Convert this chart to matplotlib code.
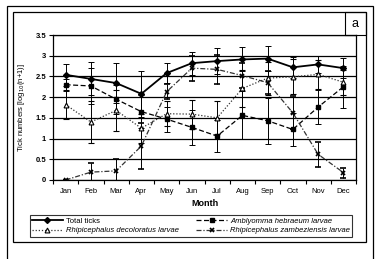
import numpy as np
import matplotlib
matplotlib.use("Agg")
import matplotlib.pyplot as plt
from matplotlib.patches import Rectangle
from matplotlib.lines import Line2D

plt.rcParams['font.family'] = ['Liberation Sans', 'DejaVu Sans']

months = ['Jan', 'Feb', 'Mar', 'Apr', 'May', 'Jun', 'Jul', 'Aug', 'Sep', 'Oct', 'Nov', 'Dec']

# log10(n+1) tick numbers and error bars
total = [2.54, 2.44, 2.34, 2.08, 2.58, 2.82, 2.87, 2.91, 2.93, 2.72, 2.79, 2.70]
total_err = [0.26, 0.40, 0.48, 0.56, 0.25, 0.28, 0.32, 0.29, 0.30, 0.25, 0.20, 0.24]

amblyomma = [2.30, 2.27, 1.95, 1.65, 1.47, 1.27, 1.06, 1.56, 1.43, 1.22, 1.76, 2.25]
amblyomma_err = [0.15, 0.43, 0.35, 0.40, 0.30, 0.42, 0.38, 0.58, 0.55, 0.40, 0.42, 0.50]

decoloratus = [1.82, 1.40, 1.68, 1.25, 1.60, 1.59, 1.50, 2.21, 2.46, 2.49, 2.55, 2.36]
decoloratus_err = [0.35, 0.51, 0.50, 0.35, 0.30, 0.35, 0.40, 0.45, 0.40, 0.42, 0.35, 0.30]

zambeziensis = [0.0, 0.19, 0.22, 0.82, 2.13, 2.70, 2.67, 2.52, 2.35, 1.62, 0.62, 0.18]
zambeziensis_err = [0.0, 0.23, 0.28, 0.55, 0.18, 0.30, 0.35, 0.30, 0.28, 0.40, 0.30, 0.12]

x = np.arange(len(months))

fig = plt.figure(figsize=(3.8, 2.59), dpi=100)

# frames around the figure
W, H = 380, 259
def box(x0, y0, x1, y1, lw):
    fig.patches.append(Rectangle((x0 / W, 1 - y1 / H), (x1 - x0) / W, (y1 - y0) / H,
                                 transform=fig.transFigure, fill=False,
                                 edgecolor='black', linewidth=lw))
box(7, 6, 373, 270, 0.9)
box(13, 12, 366, 242, 0.9)
box(345, 12, 366, 35, 0.8)
fig.text(355.5 / W, 1 - 24 / H, 'a', ha='center', va='center', fontsize=9)

ax = fig.add_axes([53 / W, 1 - 180 / H, 303 / W, 145 / H])

styles = [
    dict(color='black', lw=1.3, ls='-', marker='D', ms=3),
    dict(color='black', lw=0.9, ls=(0, (4, 2)), marker='s', ms=3.2),
    dict(color='#333333', lw=0.9, ls=(0, (1, 1.5)), marker='^', ms=3.5,
         mfc='white', mec='black', mew=0.8),
    dict(color='#333333', lw=0.9, ls=(0, (4, 1.5, 1, 1.5)), marker='x', ms=3.5,
         mec='black', mew=1.2),
]
series = [total, amblyomma, decoloratus, zambeziensis]
errors = [total_err, amblyomma_err, decoloratus_err, zambeziensis_err]
labels = ['Total ticks', 'Amblyomma hebraeum larvae',
          'Rhipicephalus decoloratus larvae', 'Rhipicephalus zambeziensis larvae']

ekw = dict(ecolor='black', elinewidth=0.7, capsize=2, capthick=0.7)
for y, e, st in zip(series, errors, styles):
    ax.errorbar(x, y, yerr=e, **st, **ekw)

ax.set_xlim(-0.5, 11.5)
ax.set_ylim(0, 3.5)
ax.set_yticks(np.arange(0, 3.51, 0.5))
ax.set_yticklabels(['0', '0.5', '1', '1.5', '2', '2.5', '3', '3.5'], fontsize=5.5,
                   fontweight='bold')
ax.set_xticks(x)
ax.set_xticklabels(months, fontsize=5.5)
ax.set_xticks(np.arange(-0.5, 12, 1), minor=True)
ax.tick_params(axis='x', which='major', length=0, pad=6)
ax.tick_params(axis='x', which='minor', length=3, width=0.8, direction='out')
ax.tick_params(axis='y', length=3, width=0.8, direction='out', pad=2)
ax.yaxis.grid(True, color='black', lw=0.9)
ax.set_axisbelow(True)
for s in ax.spines.values():
    s.set_linewidth(0.9)

ax.set_xlabel('Month', fontsize=6.5, fontweight='bold', labelpad=3)
ax.set_ylabel('Tick numbers [log$_{10}$(n+1)]', fontsize=5.5, labelpad=6)

handles = [Line2D([], [], **st) for st in styles]
order = [0, 2, 1, 3]
leg = fig.legend([handles[i] for i in order], [labels[i] for i in order],
                 loc='center', bbox_to_anchor=(26 / W, 1 - 238 / H, 330 / W, 24 / H),
                 ncol=2, mode='expand', fontsize=5.5, frameon=True, fancybox=False,
                 edgecolor='black', borderpad=0.3, handlelength=4, handletextpad=0.4,
                 labelspacing=0.3, columnspacing=1.0)
leg.get_frame().set_linewidth(0.8)
for t in leg.get_texts():
    if t.get_text() != 'Total ticks':
        t.set_fontstyle('italic')

fig.savefig('out.png', dpi=100)
